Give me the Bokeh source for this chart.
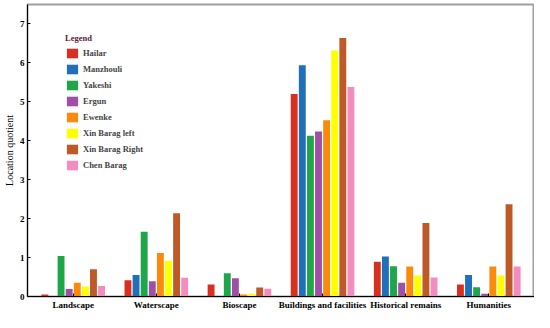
from bokeh.plotting import figure
from bokeh.models import (FactorRange, Range1d, FixedTicker, ColumnDataSource, Legend,
                          LegendItem, AllLabels)
from bokeh.transform import dodge
from bokeh.embed import file_html
from bokeh.resources import INLINE

categories = ["Landscape", "Waterscape", "Bioscape", "Buildings and facilities",
              "Historical remains", "Humanities"]
series_names = ["Hailar", "Manzhouli", "Yakeshi", "Ergun", "Ewenke",
                "Xin Barag left", "Xin Barag Right", "Chen Barag"]
hailar = [0.05, 0.42, 0.31, 5.20, 0.89, 0.31]
manzhouli = [0.0, 0.55, 0.0, 5.94, 1.03, 0.55]
yakeshi = [1.04, 1.66, 0.60, 4.13, 0.78, 0.24]
ergun = [0.19, 0.39, 0.47, 4.24, 0.35, 0.07]
ewenke = [0.35, 1.12, 0.05, 4.53, 0.77, 0.77]
xin_barag_left = [0.26, 0.92, 0.07, 6.32, 0.54, 0.54]
xin_barag_right = [0.70, 2.14, 0.23, 6.64, 1.89, 2.37]
chen_barag = [0.27, 0.48, 0.20, 5.38, 0.49, 0.77]
y_ticks = [0, 1, 2, 3, 4, 5, 6, 7]

series_values = [hailar, manzhouli, yakeshi, ergun, ewenke,
                 xin_barag_left, xin_barag_right, chen_barag]
colors = ["#d7301f", "#1f70b8", "#20a64a", "#a04fa6", "#fb8a0c",
          "#ffff00", "#bd5a28", "#f38cbf"]

FONT = "Liberation Serif"

p = figure(width=534, height=312, output_backend="svg", toolbar_location=None,
           x_range=FactorRange(factors=categories, range_padding=0.05,
                               range_padding_units="absolute"),
           y_range=Range1d(0, 7.5),
           min_border_left=0, min_border_right=0, min_border_top=4, min_border_bottom=0)

data = {"cat": categories}
for i, vals in enumerate(series_values):
    data[f"s{i}"] = vals
src = ColumnDataSource(data)

step = 0.0975
width = 0.083
items = []
for i, name in enumerate(series_names):
    off = (i - 3.5) * step
    r = p.vbar(x=dodge("cat", off, range=p.x_range), top=f"s{i}", width=width,
               source=src, fill_color=colors[i], line_color=None)
    items.append(LegendItem(label=name, renderers=[r]))

legend = Legend(items=items, location=(38, 125), title="Legend",
                title_text_font=FONT, title_text_font_style="bold",
                title_text_font_size="8.5px", title_text_color="#5b1a3a",
                title_standoff=4,
                label_text_font=FONT, label_text_font_style="bold",
                label_text_font_size="8.5px", label_standoff=4,
                glyph_width=14, glyph_height=12, label_height=12, spacing=4,
                padding=0, margin=0, border_line_alpha=0, background_fill_alpha=0)
p.add_layout(legend)

p.xgrid.visible = False
p.ygrid.visible = False
p.outline_line_color = "#a0a0a0"
p.outline_line_width = 2

p.yaxis.ticker = FixedTicker(ticks=y_ticks)
p.yaxis.major_label_policy = AllLabels()
p.yaxis.minor_tick_line_color = None
p.yaxis.major_tick_in = 3
p.yaxis.major_tick_out = 0
p.yaxis.axis_label = "Location quotient"
p.yaxis.axis_label_text_font = FONT
p.yaxis.axis_label_text_font_style = "normal"
p.yaxis.axis_label_text_font_size = "10px"
p.yaxis.axis_label_standoff = 2
p.yaxis.major_label_text_font = FONT
p.yaxis.major_label_text_font_style = "bold"
p.yaxis.major_label_text_font_size = "9px"
p.yaxis.major_label_standoff = 3

p.xaxis.major_tick_in = 3
p.xaxis.major_tick_out = 0
p.xaxis.major_label_text_font = FONT
p.xaxis.major_label_text_font_style = "bold"
p.xaxis.major_label_text_font_size = "9px"
p.xaxis.major_label_standoff = 3

for ax in (p.xaxis, p.yaxis):
    ax.axis_line_color = "black"
    ax.axis_line_width = 1
    ax.major_tick_line_color = "black"
    ax.major_label_text_color = "black"
    ax.axis_label_text_color = "black"

open("out.html", "w").write(file_html(p, INLINE))
